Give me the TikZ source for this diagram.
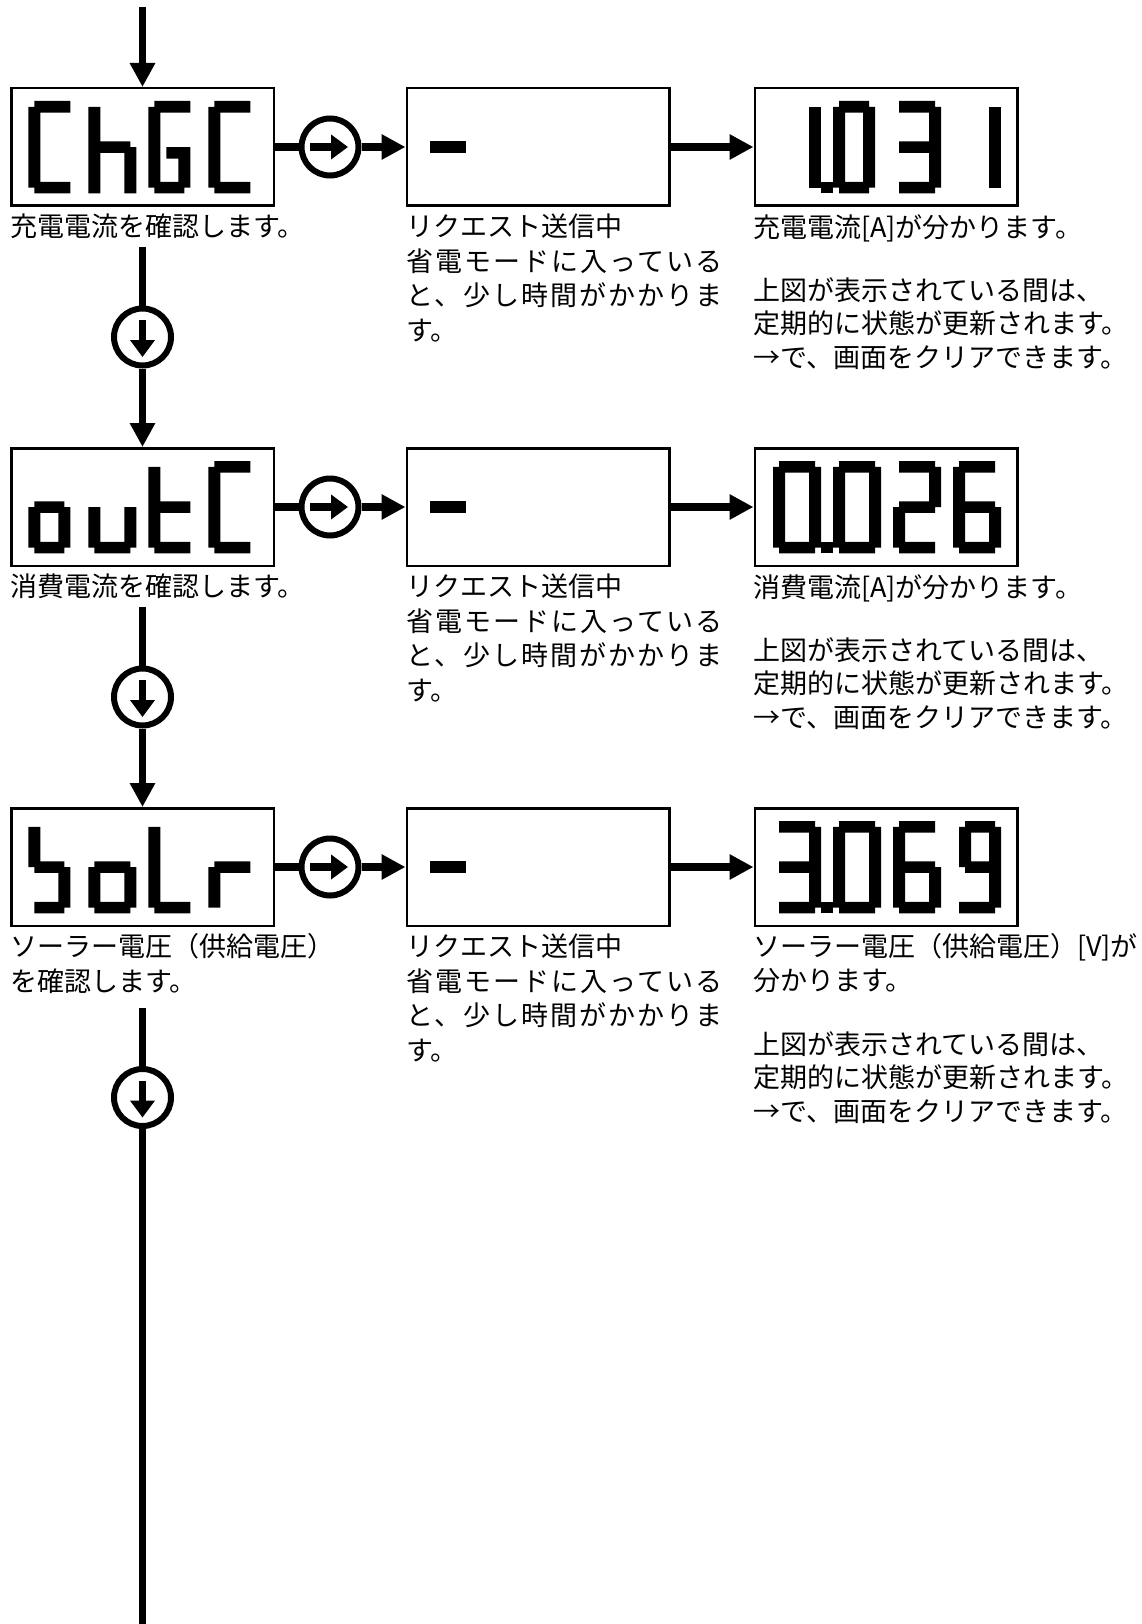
\documentclass[tikz,border=0pt]{standalone}
\usepackage{fontspec}
\setmainfont{Noto Sans CJK JP}
\newfontfamily\jpwide[LetterSpace=7.5]{Noto Sans CJK JP}
\usetikzlibrary{arrows.meta}

% segments of the display font: cells 8 wide, 16 high, y going down
\newcommand\defglyph[2]{\expandafter\def\csname lcd#1\endcsname{\fill #2;}}
\defglyph{C}{(1,0) rectangle (7,2) (0,1) rectangle (2,15) (1,14) rectangle (7,16)}
\defglyph{h}{(0,1) rectangle (2,16) (2,7) rectangle (7,9) (6,8) rectangle (8,16)}
\defglyph{G}{(1,0) rectangle (7,2) (0,1) rectangle (2,15) (1,14) rectangle (6,16) (5,8) rectangle (7,15) (3,8) rectangle (5,10)}
\defglyph{o}{(1,7) rectangle (6,9) (0,8) rectangle (2,15) (5,8) rectangle (7,15) (1,14) rectangle (6,16)}
\defglyph{ow}{(1,7) rectangle (7,9) (0,8) rectangle (2,15) (6,8) rectangle (8,15) (1,14) rectangle (7,16)}
\defglyph{u}{(0,8) rectangle (2,15) (6,8) rectangle (8,15) (1,14) rectangle (7,16)}
\defglyph{t}{(0,1) rectangle (2,15) (2,7) rectangle (7,9) (1,14) rectangle (7,16)}
\defglyph{b}{(0,1) rectangle (2,8) (1,7) rectangle (6,9) (5,8) rectangle (7,15) (1,14) rectangle (6,16)}
\defglyph{L}{(0,1) rectangle (2,15) (1,14) rectangle (7,16)}
\defglyph{r}{(0,8) rectangle (2,15) (1,7) rectangle (7,9)}
\defglyph{0}{(1,0) rectangle (7,2) (0,1) rectangle (2,15) (6,1) rectangle (8,15) (1,14) rectangle (7,16)}
\defglyph{0n}{(1,0) rectangle (6,2) (0,1) rectangle (2,15) (5,1) rectangle (7,15) (1,14) rectangle (6,16)}
\defglyph{1}{(6,1) rectangle (8,15)}
\defglyph{2}{(1,0) rectangle (7,2) (6,1) rectangle (8,8) (1,7) rectangle (7,9) (0,8) rectangle (2,15) (1,14) rectangle (7,16)}
\defglyph{3}{(1,0) rectangle (7,2) (6,1) rectangle (8,15) (1,7) rectangle (7,9) (1,14) rectangle (7,16)}
\defglyph{6}{(1,0) rectangle (7,2) (0,1) rectangle (2,15) (1,7) rectangle (7,9) (6,8) rectangle (8,15) (1,14) rectangle (7,16)}
\defglyph{9}{(2,0) rectangle (7,2) (1,1) rectangle (3,8) (2,7) rectangle (7,9) (6,1) rectangle (8,15) (1,14) rectangle (7,16)}
\defglyph{p}{(8,14) rectangle (10,16)}
\defglyph{dash}{(1,7) rectangle (7,9)}

% #1 panel node, #2 left offset, #3 glyph/cell list
\newcommand\lcdword[3]{%
  \foreach \gl/\cell in {#3}
  { \begin{scope}[shift={(#1.north west)},xshift=#2pt+60pt*\cell,yshift=-14pt,x=6pt,y=-5.77pt]
      \csname lcd\gl\endcsname
    \end{scope} }}

\begin{document}
\begin{tikzpicture}[x=1pt,y=-1pt,
    panel/.style={draw,line width=2.5pt,minimum width=262.5pt,minimum height=117.5pt,inner sep=0pt},
    turn/.style={draw,circle,line width=6pt,minimum size=57pt,inner sep=0pt},
    link/.style={line width=7.5pt},
    flow/.style={line width=7.5pt,-{Triangle[length=24pt,width=24pt]}},
    hint/.style={line width=7.5pt,-{Triangle[length=17pt,width=24pt]}},
    note/.style={anchor=base west,inner sep=0pt,font=\fontsize{27}{34}\selectfont}]

      \useasboundingbox (0,0) rectangle (1141,1624);

      % row 1
      \node[panel] (chgc) at (142.5,147) {};
      \node[turn] (go1) at (330,147) {};
      \node[panel] (req1) at (538,147) {};
      \node[panel] (val1) at (886,147) {};
      \lcdword{chgc}{18.3}{C/0,h/1,G/2,C/3}
      \lcdword{req1}{18.3}{dash/0}
      \lcdword{val1}{19.7}{1/0,p/0,0n/1,3/2,1/3}
      \node[note] (chgc-a) at (10,236.5) {充電電流を確認します。};
      \node[note] (val1-a) at (753,237) {充電電流[A]が分かります。};

      % row 2
      \node[panel] (outc) at (142.5,507) {};
      \node[turn] (go2) at (330,507) {};
      \node[panel] (req2) at (538,507) {};
      \node[panel] (val2) at (886,507) {};
      \lcdword{outc}{18.3}{o/0,u/1,t/2,C/3}
      \lcdword{req2}{18.3}{dash/0}
      \lcdword{val2}{19.7}{0/0,p/0,0/1,2/2,6/3}
      \node[note] (outc-a) at (10,596.5) {消費電流を確認します。};
      \node[note] (val2-a) at (753,597) {消費電流[A]が分かります。};

      % row 3
      \node[panel] (bolr) at (142.5,867) {};
      \node[turn] (go3) at (330,867) {};
      \node[panel] (req3) at (538,867) {};
      \node[panel] (val3) at (886,867) {};
      \lcdword{bolr}{18.3}{b/0,ow/1,L/2,r/3}
      \lcdword{req3}{18.3}{dash/0}
      \lcdword{val3}{19.7}{3/0,p/0,0/1,6/2,9/3}
      \node[note] (bolr-a) at (10,956) {ソーラー電圧（供給電圧）};
      \node[note] (bolr-b) at (10,991) {を確認します。};
      \node[note] (val3-a) at (753,956) {ソーラー電圧（供給電圧）[V]が};
      \node[note] (val3-b) at (753,990) {分かります。};

      % texts shared by the rows
      \foreach \r/\dy in {1/0,2/360,3/720}
      { \node[note] (req\r-a) at (406,236+\dy) {リクエスト送信中};
        \node[note] (req\r-b) at (406,271+\dy) {\jpwide 省電モードに入っている};
        \node[note] (req\r-c) at (406,305.5+\dy) {\jpwide と、少し時間がかかりま};
        \node[note] (req\r-d) at (406,340+\dy) {す。}; }
      \foreach \r/\ty in {1/300,2/660,3/1054}
      { \node[note] (val\r-c) at (753,\ty) {上図が表示されている間は、};
        \node[note] (val\r-d) at (753,\ty+33.5) {定期的に状態が更新されます。};
        \node[note] (val\r-e) at (753,\ty+67) {→で、画面をクリアできます。}; }

      % arrows to the right
      \foreach \r/\a in {1/chgc,2/outc,3/bolr}
      { \draw[link] (\a.east) -- (go\r.west);
        \draw[flow] (go\r.east) -- (req\r.west);
        \draw[flow] (req\r.east) -- (val\r.west);
        \draw[hint] ([xshift=-20pt]go\r.center) -- ([xshift=18pt]go\r.center); }

      % arrows down
      \coordinate (in) at (142.5,7);
      \coordinate (dn1top) at (142.5,247);
      \coordinate (dn2top) at (142.5,607);
      \coordinate (dn3top) at (142.5,1008);
      \coordinate (out) at (142.5,1624);
      \node[turn] (dn1) at (142.5,337) {};
      \node[turn] (dn2) at (142.5,697) {};
      \node[turn] (dn3) at (142.5,1097.5) {};
      \draw[flow] (in) -- (chgc.north);
      \draw[link] (dn1top) -- (dn1.north);
      \draw[flow] (dn1.south) -- (outc.north);
      \draw[link] (dn2top) -- (dn2.north);
      \draw[flow] (dn2.south) -- (bolr.north);
      \draw[link] (dn3top) -- (dn3.north);
      \draw[link] (dn3.south) -- (out);
      \foreach \r in {1,2,3}
      { \draw[hint] ([yshift=17pt]dn\r.center) -- ([yshift=-20pt]dn\r.center); }

    \end{tikzpicture}
\end{document}
